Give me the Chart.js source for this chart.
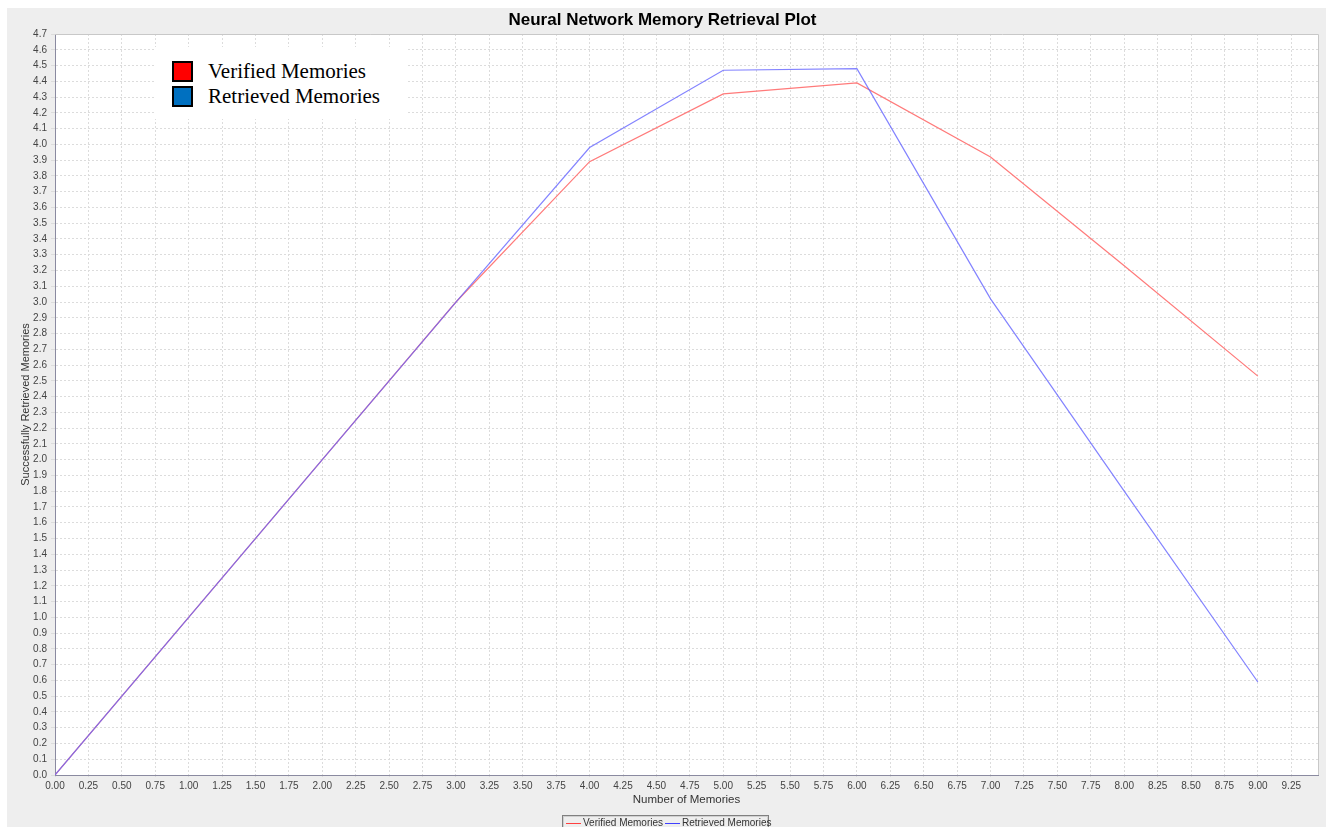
<!DOCTYPE html>
<html>
<head>
<meta charset="utf-8">
<title>Neural Network Memory Retrieval Plot</title>
<script src="https://cdn.jsdelivr.net/npm/chart.js@4/dist/chart.umd.min.js"></script>
<style>
  body { margin: 0; background: #ffffff; }
  #panel {
    position: absolute; left: 7px; top: 8px; width: 1319px; height: 819px;
    background: #eeeeee; overflow: hidden;
  }
  #chart { position: absolute; left: 0; top: 0; }
  /* leyenda flotante dentro del area del grafico */
  #topLegend {
    position: absolute; left: 148px; top: 39px; width: 252px; height: 72px;
    background: #ffffff; font-family: "Liberation Serif", "Times New Roman", serif;
    font-size: 21px; color: #000;
  }
  .sq { position: absolute; left: 17px; width: 17px; height: 17px; border: 2px solid #000; }
  .lbl { position: absolute; left: 53px; line-height: 24px; white-space: nowrap; }
  /* leyenda inferior */
  #bottomLegend {
    position: absolute; left: 555px; top: 807px; width: 205px; height: 20px;
    border: 1px solid #808080; box-shadow: inset 0 0 0 1px #d0d0d0;
    background: #eeeeee;
    font-family: "Liberation Sans", Arial, sans-serif; font-size: 10px; color: #333;
  }
  .item { position: absolute; top: 1px; white-space: nowrap; line-height: 12px; }
  .item i { display: inline-block; width: 15px; height: 1px; vertical-align: middle; margin-right: 2px; }
</style>
</head>
<body>
<div id="panel">
  <canvas id="chart" width="1319" height="819"></canvas>
  <div id="topLegend"></div>
  <div id="bottomLegend"></div>
</div>
<script>
// Datos
const memories = [0, 1, 2, 3, 4, 5, 6, 7, 8, 9];
const verified = [0, 1, 2, 3, 3.89, 4.32, 4.39, 3.92, 3.23, 2.53];
const retrieved = [0, 1, 2, 3, 3.98, 4.47, 4.48, 3.02, 1.80, 0.59];

const seriesNames = ['Verified Memories', 'Retrieved Memories'];
const lineColors = ['#ff7a7a', 'rgba(100, 100, 255, 0.8)'];
const legendLineColors = ['#ff4040', '#4040ff'];
const boxColors = ['#ff0000', '#0070c0'];

// Limites y pasos de los ejes
const xMin = 0, xMax = 9.45, xStep = 0.25, xLastTick = 9.25;
const yMin = 0, yMax = 4.7, yStep = 0.1;

const tickFont = { family: 'Liberation Sans, Arial, sans-serif', size: 10 };

// Fondo blanco del area de trazado y su borde
const plotBackground = {
  id: 'plotBackground',
  beforeDraw(chart) {
    const a = chart.chartArea;
    const ctx = chart.ctx;
    ctx.save();
    ctx.fillStyle = '#ffffff';
    ctx.fillRect(a.left, a.top, a.right - a.left, a.bottom - a.top);
    ctx.restore();
  },
  afterDraw(chart) {
    const a = chart.chartArea;
    const ctx = chart.ctx;
    ctx.save();
    ctx.strokeStyle = '#c8c8c8';
    ctx.lineWidth = 1;
    ctx.beginPath();
    ctx.moveTo(a.left, a.top + 0.5);
    ctx.lineTo(a.right + 0.5, a.top + 0.5);
    ctx.lineTo(a.right + 0.5, a.bottom);
    ctx.stroke();
    ctx.restore();
  }
};

function toPoints(values) {
  return memories.map((m, i) => ({ x: m, y: values[i] }));
}

const ctx = document.getElementById('chart').getContext('2d');
new Chart(ctx, {
  type: 'line',
  data: {
    datasets: [
      {
        label: seriesNames[0],
        data: toPoints(verified),
        borderColor: lineColors[0],
        borderWidth: 1.2,
        pointRadius: 0,
        tension: 0,
        order: 2 // se dibuja debajo de la azul
      },
      {
        label: seriesNames[1],
        data: toPoints(retrieved),
        borderColor: lineColors[1],
        borderWidth: 1.2,
        pointRadius: 0,
        tension: 0,
        order: 1
      }
    ]
  },
  options: {
    responsive: false,
    animation: false,
    layout: { padding: { left: 0, right: 8, top: 0, bottom: 0 } },
    plugins: {
      legend: { display: false },
      tooltip: { enabled: false },
      title: {
        display: true,
        text: 'Neural Network Memory Retrieval Plot',
        color: '#000000',
        font: { family: 'Liberation Sans, Arial, sans-serif', size: 17, weight: 'bold' },
        padding: { top: 2, bottom: 3.6 }
      }
    },
    scales: {
      x: {
        type: 'linear',
        min: xMin,
        max: xMax,
        afterFit(scale) { scale.height = 52; },
        afterBuildTicks(scale) {
          // marcas cada 0.25 hasta la ultima etiqueta, sin el limite 9.45
          const ticks = [];
          for (let i = 0; xMin + i * xStep <= xLastTick + 1e-9; i++) {
            ticks.push({ value: +(xMin + i * xStep).toFixed(2) });
          }
          scale.ticks = ticks;
        },
        ticks: {
          stepSize: xStep,
          autoSkip: false,
          maxRotation: 0,
          padding: 3,
          color: '#444444',
          font: tickFont,
          callback: v => Number(v).toFixed(2)
        },
        grid: { color: '#dcdcdc', lineWidth: 1, tickLength: 2 },
        border: { color: '#8a8aa0', width: 1, dash: [2, 2] },
        title: {
          display: true,
          text: 'Number of Memories',
          color: '#333333',
          font: { family: 'Liberation Sans, Arial, sans-serif', size: 11.5 },
          padding: { top: 0, bottom: 20 }
        }
      },
      y: {
        type: 'linear',
        min: yMin,
        max: yMax,
        afterFit(scale) { scale.width = 48; },
        ticks: {
          stepSize: yStep,
          autoSkip: false,
          padding: 4,
          color: '#444444',
          font: tickFont,
          callback: v => Number(v).toFixed(1)
        },
        grid: { color: '#dcdcdc', lineWidth: 1, tickLength: 4 },
        border: { color: '#8a8aa0', width: 1, dash: [2, 2] },
        title: {
          display: true,
          text: 'Successfully Retrieved Memories',
          color: '#333333',
          font: { family: 'Liberation Sans, Arial, sans-serif', size: 11 },
          padding: { top: 12, bottom: 0 }
        }
      }
    }
  },
  plugins: [plotBackground]
});

// Leyenda superior con cuadros de color
const topLegend = document.getElementById('topLegend');
seriesNames.forEach((name, i) => {
  const sq = document.createElement('div');
  sq.className = 'sq';
  sq.style.top = (14 + i * 25) + 'px';
  sq.style.background = boxColors[i];
  topLegend.appendChild(sq);
  const lbl = document.createElement('div');
  lbl.className = 'lbl';
  lbl.style.top = (12 + i * 25) + 'px';
  lbl.textContent = name;
  topLegend.appendChild(lbl);
});

// Leyenda inferior con lineas
const bottomLegend = document.getElementById('bottomLegend');
const itemLefts = [3, 102];
seriesNames.forEach((name, i) => {
  const item = document.createElement('div');
  item.className = 'item';
  item.style.left = itemLefts[i] + 'px';
  const line = document.createElement('i');
  line.style.background = legendLineColors[i];
  item.appendChild(line);
  item.appendChild(document.createTextNode(name));
  bottomLegend.appendChild(item);
});
</script>
</body>
</html>
